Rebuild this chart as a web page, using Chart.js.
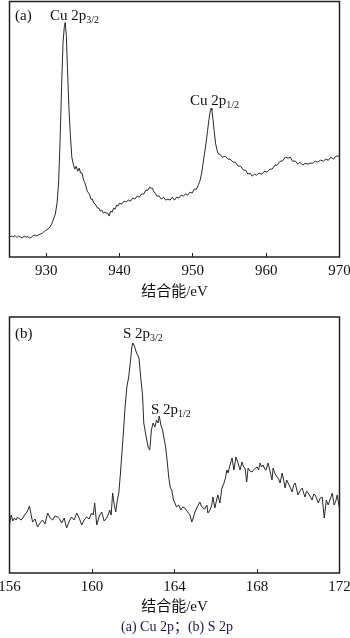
<!DOCTYPE html>
<html lang="zh">
<head>
<meta charset="UTF-8">
<title>XPS Cu 2p / S 2p</title>
<script src="https://cdn.jsdelivr.net/npm/chart.js"></script>
<style>
    body { margin: 0; background: #fff; width: 350px; height: 638px; position: relative; overflow: hidden; }
    .box { position: absolute; left: 0; width: 350px; }
    .lbl { position: absolute; font-family: 'Liberation Serif', serif; font-size: 15px; line-height: 15px; color: #111; white-space: nowrap; }
    .lbl sub { font-size: 10px; vertical-align: -3px; line-height: 0; }
    #caption { position: absolute; top: 618px; left: 0; width: 354px; text-align: center; font-family: 'Liberation Serif', 'Noto Sans CJK SC', serif; font-size: 14px; line-height: 17px; color: #1a1a55; }
</style>
</head>
<body>
<div class="box" style="top:0;height:300px"><canvas id="cu"></canvas></div>
<div class="box" style="top:300px;height:320px"><canvas id="s"></canvas></div>

<div class="lbl" style="left:15px;top:8px">(a)</div>
<div class="lbl" style="left:50px;top:8px">Cu 2p<sub>3/2</sub></div>
<div class="lbl" style="left:190px;top:93px">Cu 2p<sub>1/2</sub></div>
<div class="lbl" style="left:15px;top:326px">(b)</div>
<div class="lbl" style="left:123px;top:326px">S 2p<sub>3/2</sub></div>
<div class="lbl" style="left:151px;top:402px">S 2p<sub>1/2</sub></div>
<div id="caption">(a) Cu 2p；(b) S 2p</div>

<script>
// (a) Cu 2p spectrum, binding energy (eV) / intensity (arb.)
const cuEnergy = [925.0,925.25,925.5,925.75,926.0,926.25,926.5,926.75,927.0,927.25,927.5,927.75,928.0,928.25,928.5,928.75,
    929.0,929.25,929.5,929.75,930.0,930.25,930.5,930.75,931.0,931.25,931.5,931.7,931.9,932.1,932.3,932.5,932.6,932.75,932.9,
    933.1,933.3,933.5,933.7,933.9,934.1,934.3,934.5,934.7,934.9,935.1,935.3,935.6,935.9,936.1,936.3,936.5,936.7,937.0,937.2,
    937.4,937.6,937.8,938.0,938.2,938.4,938.6,938.8,939.0,939.2,939.4,939.6,939.8,940.0,940.3,940.6,940.9,941.2,941.5,941.8,
    942.1,942.4,942.7,943.0,943.3,943.6,943.9,944.1,944.3,944.5,944.7,944.9,945.1,945.4,945.7,946.0,946.3,946.6,946.9,947.2,
    947.5,947.8,948.1,948.4,948.7,949.0,949.3,949.6,949.9,950.2,950.5,950.8,951.0,951.2,951.4,951.6,951.8,952.0,952.2,952.4,
    952.5,952.6,952.75,952.9,953.1,953.3,953.5,953.7,954.0,954.4,954.8,955.1,955.5,955.8,956.2,956.5,956.9,957.2,957.5,957.8,
    958.1,958.4,958.7,959.0,959.4,959.8,960.1,960.5,960.8,961.2,961.5,961.9,962.2,962.6,963.0,963.3,963.6,964.0,964.3,964.6,
    965.0,965.3,965.7,966.0,966.4,966.7,967.0,967.4,967.8,968.1,968.5,968.8,969.2,969.5,969.8,970.0];
const cuIntensity = [20,21,20,21.5,19.5,21,20,19,21,20,20.5,19,20,21.5,22,21,
    22.5,23,24,25.5,27,28,30,33,38,43,55,75,117,170,215,233,235,222,190,
    150,122,
    100,93,88,91,86,89,84,84,77,74,66,63,58,58,54,53,49,49,46,47,
    44,45,44,44,41,46,45,49,48,52,51,54,53,56,55,57,56,59,58,61,
    60,63,63,67,67,70,69,69,65,64,61,61,58,60,57,58,57,60,57,60,
    59,62,61,63,62,65,64,68,68,
    73,77,84,94,104,114,126,138,147,149,147,138,127,114,
    107,103,103,100,101,98,98,95,95,91,91,87,87,83,84,81,83,82,84,83,
    86,85,88,88,92,92,96,96,100,99,100,96,96,93,95,92,94,93,94,94,
    96,95,97,96,98,97,100,98,101,101,102];
const cuTicks = [930, 940, 950, 960, 970];

// (b) S 2p spectrum
const sEnergy = [156.0,156.08,156.16,156.24,156.32,156.39,156.48,156.57,156.65,156.73,156.85,156.97,157.05,157.12,157.24,
    157.36,157.48,157.6,157.72,157.85,157.97,158.09,158.2,158.33,158.43,158.53,158.65,158.77,158.9,159.01,159.13,159.26,
    159.38,159.5,159.62,159.74,159.86,159.98,160.06,160.13,160.23,160.35,160.47,160.59,160.71,160.8,160.86,160.93,161.0,
    161.08,161.15,161.22,161.3,161.38,161.45,161.52,161.6,161.69,161.78,161.88,161.93,161.98,162.03,162.07,162.16,162.28,
    162.35,162.45,162.51,162.61,162.72,162.8,162.88,162.96,163.05,163.13,163.2,163.26,163.34,163.42,163.48,163.57,163.64,
    163.72,163.8,163.87,163.95,164.02,164.1,164.2,164.3,164.4,164.5,164.6,164.75,164.84,164.92,164.99,165.1,165.23,165.3,
    165.38,165.47,165.57,165.62,165.72,165.81,165.86,165.96,166.03,166.1,166.2,166.3,166.4,166.47,166.54,166.6,166.69,
    166.79,166.88,166.98,167.08,167.18,167.27,167.35,167.42,167.5,167.57,167.66,167.76,167.88,168.0,168.08,168.15,168.22,
    168.3,168.37,168.44,168.54,168.63,168.73,168.78,168.88,168.97,169.05,169.12,169.22,169.3,169.36,169.44,169.51,169.6,
    169.7,169.78,169.85,169.92,169.99,170.1,170.19,170.26,170.33,170.4,170.48,170.57,170.67,170.75,170.82,170.9,170.97,
    171.07,171.16,171.26,171.36,171.45,171.55,171.65,171.74,171.82,171.89,171.95,172.0];
const sIntensity = [48,58,52,55,53,56,54,53,55,58,61,67,58,51,54,
    46,50,53,49,60,55,53,57,56,54,50,55,45,52,56,53,60,
    55,48,53,56,54,60,58,70,48,57,61,52,55,59,63,58,80,
    68,61,72,80,100,120,140,165,186,196,215,226,230,228,226,220,215,
    198,178,150,138,126,123,143,150,146,153,150,157,148,143,136,126,113,
    96,85,83,73,70,66,68,63,66,65,62,58,51,56,61,66,71,67,
    65,64,68,60,63,68,76,65,72,78,70,85,90,95,103,100,108,
    115,103,116,110,103,111,106,105,91,105,102,101,104,106,103,110,106,
    108,104,103,110,102,93,105,99,96,94,90,100,92,85,93,90,86,
    81,88,90,84,78,83,85,80,76,82,80,77,73,79,78,74,70,
    75,76,55,73,68,74,80,68,72,78,70,65];
const sTicks = [156, 160, 164, 168, 172];

const serif = "'Liberation Serif', 'Noto Sans CJK SC', serif";
const ink = '#222';

const frame = {
    id: 'frame',
    afterDraw(chart) {
        const { ctx, chartArea: a } = chart;
        ctx.save();
        ctx.strokeStyle = ink;
        ctx.lineWidth = 1.5;
        ctx.strokeRect(a.left, a.top, a.right - a.left, a.bottom - a.top);
        ctx.restore();
    }
};

function makeChart(id, energy, intensity, ticks, xMin, padTop, axisHeight, titlePad) {
    const points = energy.map((e, i) => ({ x: e, y: intensity[i] }));
    return new Chart(document.getElementById(id), {
        type: 'line',
        data: {
            datasets: [{
                data: points,
                borderColor: '#2a2a2a',
                borderWidth: 1,
                pointRadius: 0,
                tension: 0,
                fill: false
            }]
        },
        options: {
            responsive: true,
            maintainAspectRatio: false,
            animation: false,
            events: [],
            layout: { padding: { left: 9.5, right: 10.5, top: padTop, bottom: 0 } },
            plugins: { legend: { display: false }, tooltip: { enabled: false } },
            scales: {
                x: {
                    type: 'linear',
                    min: xMin,
                    max: ticks[ticks.length - 1],
                    afterBuildTicks: s => { s.ticks = ticks.map(v => ({ value: v })); },
                    afterFit: s => { s.height = axisHeight; s.paddingLeft = 0; s.paddingRight = 0; },
                    grid: { display: true, drawOnChartArea: false, drawTicks: true, tickLength: -4, color: ink, lineWidth: 1 },
                    border: { display: false },
                    ticks: { color: '#111', font: { family: serif, size: 15 }, padding: 9, maxRotation: 0, autoSkip: false },
                    title: {
                        display: true, text: '结合能/eV', color: '#111',
                        font: { family: serif, size: 15, lineHeight: 1 },
                        padding: { top: 0, bottom: titlePad }
                    }
                },
                y: { display: false, min: 0, max: 256 }
            }
        },
        plugins: [frame]
    });
}

makeChart('cu', cuEnergy, cuIntensity, cuTicks, 925, 1.5, 43, 0);
makeChart('s', sEnergy, sIntensity, sTicks, 156, 17, 47, 5.5);
</script>
</body>
</html>
